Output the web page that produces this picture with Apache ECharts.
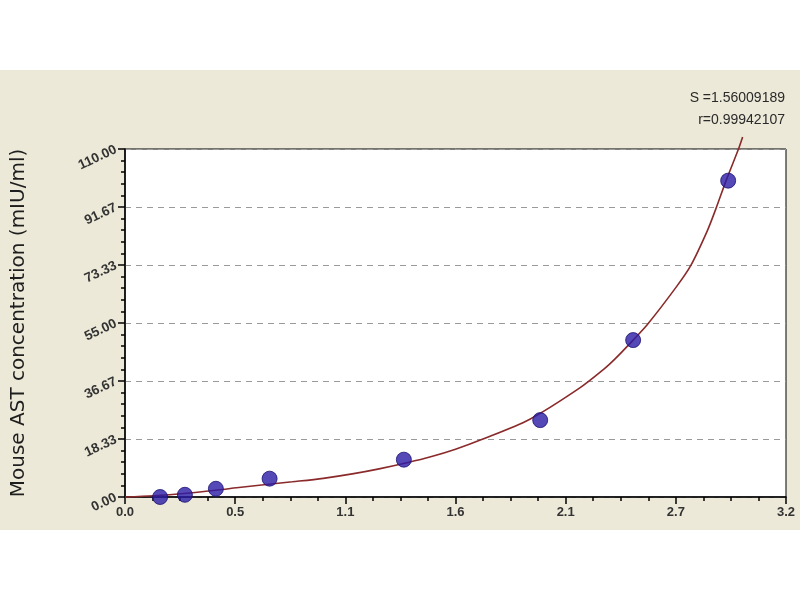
<!DOCTYPE html>
<html><head><meta charset="utf-8">
<script src="https://cdn.jsdelivr.net/npm/echarts@6/dist/echarts.min.js"></script>
<style>html,body{margin:0;padding:0;background:#fff;}#c{width:800px;height:600px;}</style>
</head><body><div id="c"></div>
<script>
// Standard points: X (OD), Y (mIU/ml)
const pointX = [0.17, 0.29, 0.44, 0.70, 1.35, 2.01, 2.46, 2.92];
const pointY = [0.0, 0.7, 2.6, 5.8, 11.8, 24.3, 49.6, 100.0];
// Fitted curve
const curveX = [0.00, 0.14, 0.30, 0.45, 0.54, 0.65, 0.81, 0.96, 1.10, 1.23, 1.37, 1.48, 1.60, 1.72, 1.96, 2.20, 2.32, 2.37, 2.46, 2.53, 2.67, 2.74, 2.82, 2.86, 2.91, 2.97, 2.99];
const curveY = [0.0, 0.4, 1.2, 2.2, 2.9, 3.7, 4.8, 5.9, 7.3, 8.9, 10.9, 12.7, 15.1, 18.0, 24.6, 34.4, 40.5, 43.5, 49.6, 54.6, 66.5, 73.3, 84.3, 91.0, 100.0, 110.0, 113.8];
const xTickLabels = ['0.0', '0.5', '1.1', '1.6', '2.1', '2.7', '3.2'];
const yTickLabels = ['0.00', '18.33', '36.67', '55.00', '73.33', '91.67', '110.00'];
const statLines = ['S =1.56009189', 'r=0.99942107'];
const yName = 'Mouse AST concentration (mIU/ml)';

const xMax = 3.2, yMax = 110;
const xStep = xMax / 6, yStep = yMax / 6;

const chart = echarts.init(document.getElementById('c'), null, {renderer: 'canvas'});
chart.setOption({
  backgroundColor: '#ffffff',
  animation: false,
  graphic: [
    {type: 'rect', z: -100, silent: true, shape: {x: 0, y: 70, width: 800, height: 460}, style: {fill: '#ECE9D8'}},
    {type: 'text', right: 15, top: 91, z: 10, style: {text: statLines[0], font: '14px "Liberation Sans Narrow", Arial', fill: '#2a2a2a', textAlign: 'right'}},
    {type: 'text', right: 15, top: 113, z: 10, style: {text: statLines[1], font: '14px "Liberation Sans Narrow", Arial', fill: '#2a2a2a', textAlign: 'right'}}
  ],
  grid: {left: 125, right: 14, top: 149, bottom: 103, show: true, backgroundColor: '#ffffff', borderColor: '#000', borderWidth: 1, z: 0},
  xAxis: {
    type: 'value', min: 0, max: xMax, interval: xStep,
    axisLine: {show: true, lineStyle: {color: '#000', width: 1.5}},
    axisTick: {show: true, length: 7, lineStyle: {color: '#000', width: 1.5}},
    minorTick: {show: true, splitNumber: 4, length: 4, lineStyle: {color: '#000', width: 1.5}},
    splitLine: {show: false},
    axisLabel: {
      margin: 9, fontFamily: 'Arial', fontSize: 13, fontWeight: 'bold', color: '#333',
      formatter: (v) => xTickLabels[Math.round(v / xStep)]
    }
  },
  yAxis: {
    type: 'value', min: 0, max: yMax, interval: yStep,
    name: yName, nameLocation: 'middle', nameGap: 96, nameRotate: 90,
    nameTextStyle: {fontFamily: 'DejaVu Sans', fontSize: 20, color: '#1e1e1e'},
    axisLine: {show: true, lineStyle: {color: '#000', width: 1.5}},
    axisTick: {show: true, length: 7, lineStyle: {color: '#000', width: 1.5}},
    minorTick: {show: true, splitNumber: 5, length: 4, lineStyle: {color: '#000', width: 1.5}},
    splitLine: {show: true, lineStyle: {color: '#9a9a9a', type: [6, 5], width: 1}},
    axisLabel: {
      rotate: 25, margin: 9, fontFamily: 'Arial', fontSize: 13.5, fontWeight: 'bold', color: '#333',
      formatter: (v) => yTickLabels[Math.round(v / yStep)]
    }
  },
  series: [
    {
      type: 'line', data: curveX.map((x, i) => [x, curveY[i]]), smooth: 0.3, symbol: 'none', clip: false,
      lineStyle: {color: '#8a2a2a', width: 1.6}, z: 3
    },
    {
      type: 'scatter', data: pointX.map((x, i) => [x, pointY[i]]), symbol: 'circle', symbolSize: 15, clip: false,
      itemStyle: {color: '#2a1ca6', borderColor: '#1a1270', borderWidth: 1}, z: 4
    }
  ]
});
</script></body></html>
